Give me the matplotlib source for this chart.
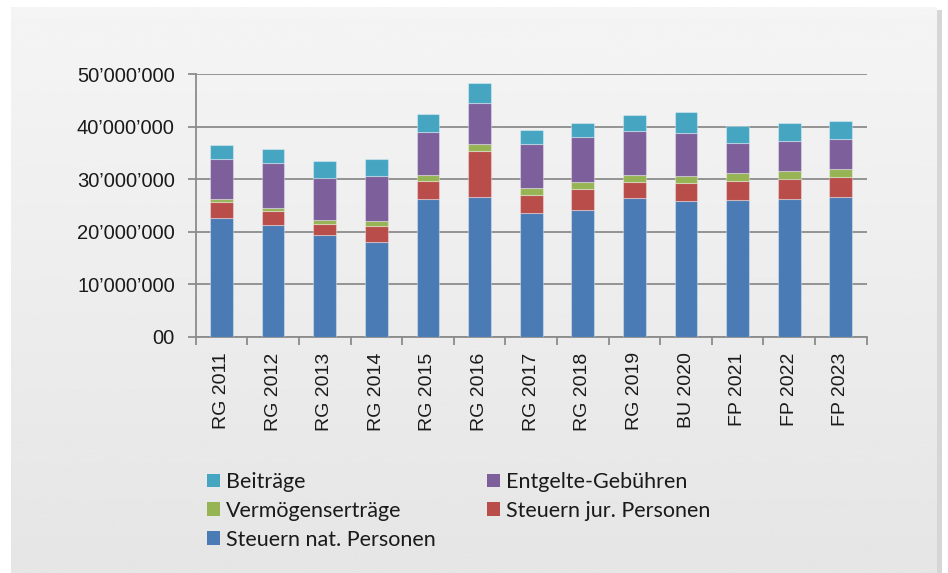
import numpy as np
import matplotlib
matplotlib.use("Agg")
import matplotlib.pyplot as plt
from matplotlib.patches import Rectangle, Patch

CATEGORIES = ["RG 2011", "RG 2012", "RG 2013", "RG 2014", "RG 2015", "RG 2016", "RG 2017",
              "RG 2018", "RG 2019", "BU 2020", "FP 2021", "FP 2022", "FP 2023"]

# Werte in Mio. CHF
STEUERN_NAT = [22.6, 21.3, 19.35, 18.15, 26.3, 26.65, 23.6, 24.1, 26.4, 25.8, 26.0, 26.3, 26.6]
STEUERN_JUR = [3.0, 2.65, 2.2, 3.05, 3.4, 8.8, 3.5, 4.15, 3.15, 3.55, 3.75, 3.8, 3.8]
VERMOEGEN = [0.65, 0.65, 0.7, 0.95, 1.2, 1.27, 1.27, 1.27, 1.27, 1.27, 1.5, 1.5, 1.6]
ENTGELTE = [7.55, 8.5, 8.05, 8.45, 8.2, 7.75, 8.45, 8.5, 8.45, 8.2, 5.7, 5.65, 5.75]
BEITRAEGE = [2.7, 2.75, 3.15, 3.2, 3.3, 3.85, 2.6, 2.8, 3.0, 4.1, 3.3, 3.4, 3.3]

SERIES = ["Steuern nat. Personen", "Steuern jur. Personen", "Vermögenserträge",
          "Entgelte-Gebühren", "Beiträge"]
COLORS = ["#4a7bb5", "#b94d4a", "#96b454", "#7d5f9b", "#46a6c2"]

YTICKS = [0, 10e6, 20e6, 30e6, 40e6, 50e6]
YTICKLABELS = ["00", "10’000’000", "20’000’000", "30’000’000", "40’000’000", "50’000’000"]

fig = plt.figure(figsize=(9.48, 5.73), dpi=100)
fig.patch.set_facecolor("white")

# background panel with shadow + vertical gradient
bg = fig.add_axes([0, 0, 1, 1], zorder=-10)
bg.add_patch(Rectangle((14, 10), 928, 570, facecolor="#d6d6d6", edgecolor="none", zorder=1))
grad = np.linspace(0.958, 0.898, 256).reshape(-1, 1)
bg.imshow(grad, cmap="gray", vmin=0, vmax=1, extent=(11, 937, 580, 7), aspect="auto",
          zorder=2)
bg.set_xlim(0, 948)
bg.set_ylim(573, 0)
bg.axis("off")

ax = fig.add_axes([0.2064, 0.4119, 0.9142 - 0.2064, 0.8703 - 0.4119])
ax.set_facecolor("none")

x = np.arange(len(CATEGORIES))
data = [STEUERN_NAT, STEUERN_JUR, VERMOEGEN, ENTGELTE, BEITRAEGE]
bottom = np.zeros(len(CATEGORIES))
for name, vals, col in zip(SERIES, data, COLORS):
    v = np.array(vals) * 1e6
    ax.bar(x, v, 0.44, bottom=bottom, color=col, edgecolor=(1, 1, 1, 0.35),
           linewidth=0.8, label=name, zorder=3)
    bottom += v

ax.set_xlim(-0.5, len(CATEGORIES) - 0.5)
ax.set_ylim(0, 50e6)
ax.set_yticks(YTICKS)
ax.set_yticklabels(YTICKLABELS, fontsize=14.5, family="Liberation Sans", color="#1a1a1a")
ax.set_xticks(x)
ax.set_xticklabels(CATEGORIES, rotation=90, fontsize=14, family="Liberation Sans",
                   color="#1a1a1a")
ax.set_xticks(np.arange(-0.5, len(CATEGORIES)), minor=True)
ax.tick_params(axis="x", which="major", length=0, pad=11)
ax.tick_params(axis="x", which="minor", length=6, width=1.3, color="#8c8c8c", direction="out")
ax.tick_params(axis="y", length=6, width=1.3, color="#8c8c8c", direction="out", pad=9)

ax.grid(axis="y", color="#8c8c8c", linewidth=1.3, zorder=0)
for s in ["top", "right"]:
    ax.spines[s].set_visible(False)
for s in ["left", "bottom"]:
    ax.spines[s].set_color("#8c8c8c")
    ax.spines[s].set_linewidth(1.3)

handles = {name: Patch(facecolor=col) for name, col in zip(SERIES, COLORS)}
order = ["Beiträge", "Vermögenserträge", "Steuern nat. Personen",
         "Entgelte-Gebühren", "Steuern jur. Personen"]
fig.legend([handles[n] for n in order], order, ncol=2, loc="upper left",
           bbox_to_anchor=(207 / 948, 1 - 472 / 573), frameon=False,
           prop={"family": "Lato", "size": 15.5}, handlelength=0.6, handleheight=0.6,
           handletextpad=0.28, columnspacing=2.4, labelspacing=0.41, borderaxespad=0,
           borderpad=0, labelcolor="#1a1a1a")

fig.savefig("out.png", dpi=100)
